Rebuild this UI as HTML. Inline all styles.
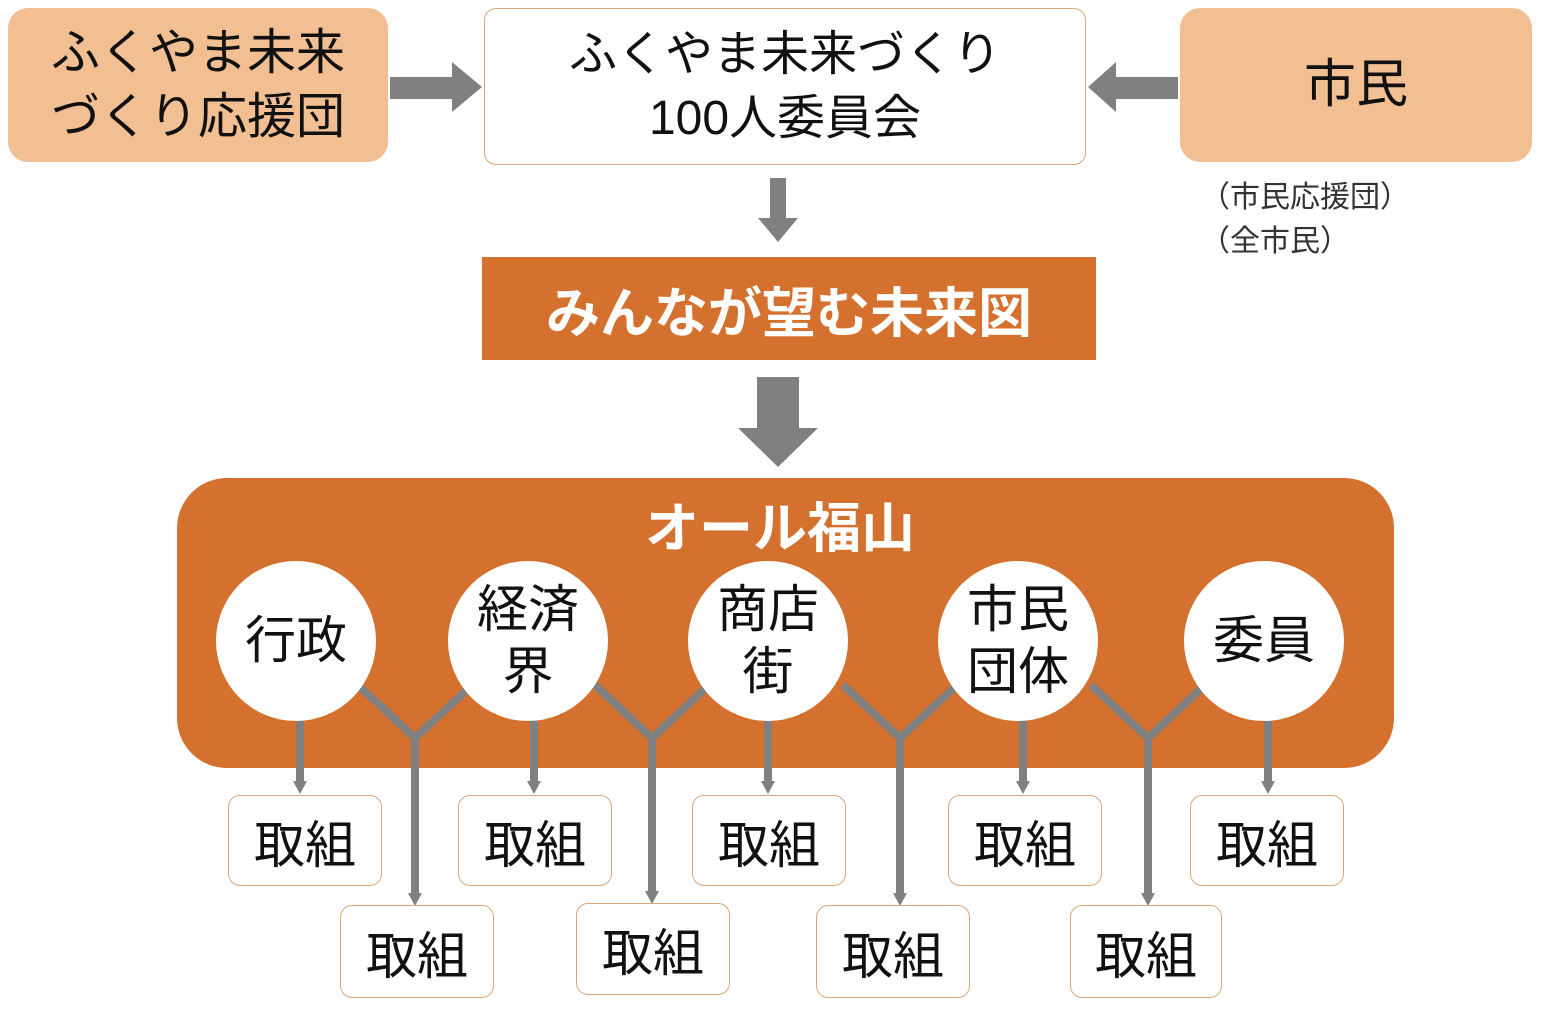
<!DOCTYPE html>
<html><head><meta charset="utf-8"><style>
body{margin:0;width:1542px;height:1012px;background:#fff;position:relative;overflow:hidden;font-family:"Liberation Sans","Noto Sans CJK JP",sans-serif;}
.a{position:absolute;box-sizing:border-box;display:flex;align-items:center;justify-content:center;text-align:center;}
.pe{background:#F2BF93;border-radius:20px;font-size:49px;line-height:64px;color:#111;}
.tk{background:#fff;border:1.5px solid #D9A877;border-radius:12px;font-size:51px;color:#111;}
.c{background:#fff;border-radius:50%;width:160px;height:160px;font-size:51px;line-height:62px;color:#111;}
</style></head><body>
<div class="a pe" style="left:8px;top:8px;width:380px;height:154px;">ふくやま未来<br>づくり応援団</div>
<div class="a" style="left:484px;top:8px;width:602px;height:157px;background:#fff;border:1.5px solid #D9A877;border-radius:12px;font-size:48px;line-height:64px;color:#111;">ふくやま未来づくり<br>100人委員会</div>
<div class="a pe" style="left:1180px;top:8px;width:352px;height:154px;font-size:52px;">市民</div>
<div style="position:absolute;left:1200px;top:176px;font-size:30px;line-height:44px;color:#333;">（市民応援団）<br>（全市民）</div>
<div class="a" style="left:482px;top:257px;width:614px;height:103px;background:#D4712F;color:#fff;font-weight:bold;font-size:54px;">みんなが望む未来図</div>
<div style="position:absolute;left:177px;top:478px;width:1217px;height:290px;background:#D4712F;border-radius:50px;"></div>
<div class="a" style="left:580px;top:490px;width:400px;height:66px;color:#fff;font-weight:bold;font-size:54px;">オール福山</div>
<svg style="position:absolute;left:0;top:0" width="1542" height="1012">
<g fill="#808080">
<polygon points="390,77 452,77 452,62 482,87 452,112 452,99 390,99"/>
<polygon points="1178,77 1116,77 1116,62 1088,87 1116,112 1116,99 1178,99"/>
<polygon points="770,178 786,178 786,218 798,218 778,242 758,218 770,218"/>
<polygon points="757,377 799,377 799,428 818,428 778,467 738,428 757,428"/>
</g>
<g stroke="#808080" stroke-width="8" fill="none">
<path d="M358,685 L415,738 L472,685 M415,738 V895"/>
<path d="M595,685 L652,738 L709,685 M652,738 V893"/>
<path d="M843,685 L900,738 L957,685 M900,738 V895"/>
<path d="M1091,685 L1148,738 L1205,685 M1148,738 V895"/>
<path d="M300,715 V783 M534,715 V783 M768,715 V783 M1023,715 V783 M1268,715 V783"/>
</g>
<g fill="#808080">
<polygon points="408,893 422,893 415,906"/><polygon points="645,891 659,891 652,904"/><polygon points="893,893 907,893 900,906"/><polygon points="1141,893 1155,893 1148,906"/>
<polygon points="293,781 307,781 300,794"/><polygon points="527,781 541,781 534,794"/><polygon points="761,781 775,781 768,794"/><polygon points="1016,781 1030,781 1023,794"/><polygon points="1261,781 1275,781 1268,794"/>
</g>
</svg>
<div class="a c" style="left:216px;top:561px;">行政</div>
<div class="a c" style="left:448px;top:561px;">経済<br>界</div>
<div class="a c" style="left:688px;top:561px;">商店<br>街</div>
<div class="a c" style="left:938px;top:561px;">市民<br>団体</div>
<div class="a c" style="left:1184px;top:561px;">委員</div>
<div class="a tk" style="left:228px;top:795px;width:154px;height:91px;">取組</div>
<div class="a tk" style="left:458px;top:795px;width:154px;height:91px;">取組</div>
<div class="a tk" style="left:692px;top:795px;width:154px;height:91px;">取組</div>
<div class="a tk" style="left:948px;top:795px;width:154px;height:91px;">取組</div>
<div class="a tk" style="left:1190px;top:795px;width:154px;height:91px;">取組</div>
<div class="a tk" style="left:340px;top:905px;width:154px;height:93px;">取組</div>
<div class="a tk" style="left:576px;top:903px;width:154px;height:92px;">取組</div>
<div class="a tk" style="left:816px;top:905px;width:154px;height:93px;">取組</div>
<div class="a tk" style="left:1070px;top:905px;width:152px;height:93px;">取組</div>
</body></html>
